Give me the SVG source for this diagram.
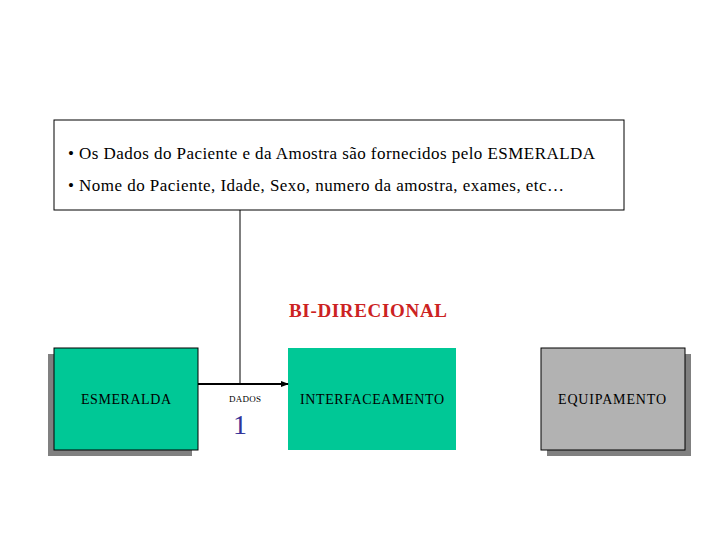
<svg xmlns="http://www.w3.org/2000/svg" width="720" height="540" viewBox="0 0 720 540">
<style>
text{font-family:"Liberation Serif",serif;fill:#000}
.lbl{font-size:14px;text-anchor:middle}
.b{stroke:#000;stroke-width:1}
</style>
<defs><marker id="ar" markerWidth="8" markerHeight="6" refX="7" refY="3" orient="auto" markerUnits="userSpaceOnUse"><path d="M0,0L8,3L0,6z" fill="#000"/></marker></defs>
<rect width="720" height="540" fill="#fff"/>
<g id="info">
<rect x="54" y="120" width="570" height="90" fill="#fff" class="b"/>
<text x="68" y="159" font-size="17" textLength="527" lengthAdjust="spacing">• Os Dados do Paciente e da Amostra são fornecidos pelo ESMERALDA</text>
<text x="68" y="191" font-size="17" textLength="496" lengthAdjust="spacing">• Nome do Paciente, Idade, Sexo, numero da amostra, exames, etc…</text>
</g>
<g id="bidir"><text x="289" y="317" font-size="19" font-weight="bold" textLength="158" lengthAdjust="spacing" style="fill:#cc2222">BI-DIRECIONAL</text></g>
<g id="esmeralda">
<rect x="48" y="354" width="144" height="102" fill="#808080"/>
<rect x="54" y="348" width="144" height="102" fill="#00c896" class="b"/>
<text x="81" y="404" font-size="14" textLength="90" lengthAdjust="spacing">ESMERALDA</text>
</g>
<g id="interface">
<rect x="288" y="348" width="168" height="102" fill="#00c896"/>
<text x="300" y="404" font-size="14" textLength="144" lengthAdjust="spacing">INTERFACEAMENTO</text>
</g>
<g id="equip">
<rect x="547" y="354" width="144" height="102" fill="#808080"/>
<rect x="541" y="348" width="144" height="102" fill="#b2b2b2" class="b"/>
<text x="558" y="404" font-size="14" textLength="108" lengthAdjust="spacing">EQUIPAMENTO</text>
</g>
<g id="connectors">
<line x1="240" y1="210" x2="240" y2="384" class="b"/>
<line x1="198" y1="384" x2="288" y2="384" stroke="#000" stroke-width="2" marker-end="url(#ar)"/>
<text x="229" y="402" font-size="9" textLength="32" lengthAdjust="spacing">DADOS</text>
<text x="240" y="434" font-size="28" text-anchor="middle" style="fill:#333399">1</text>
</g>
</svg>
